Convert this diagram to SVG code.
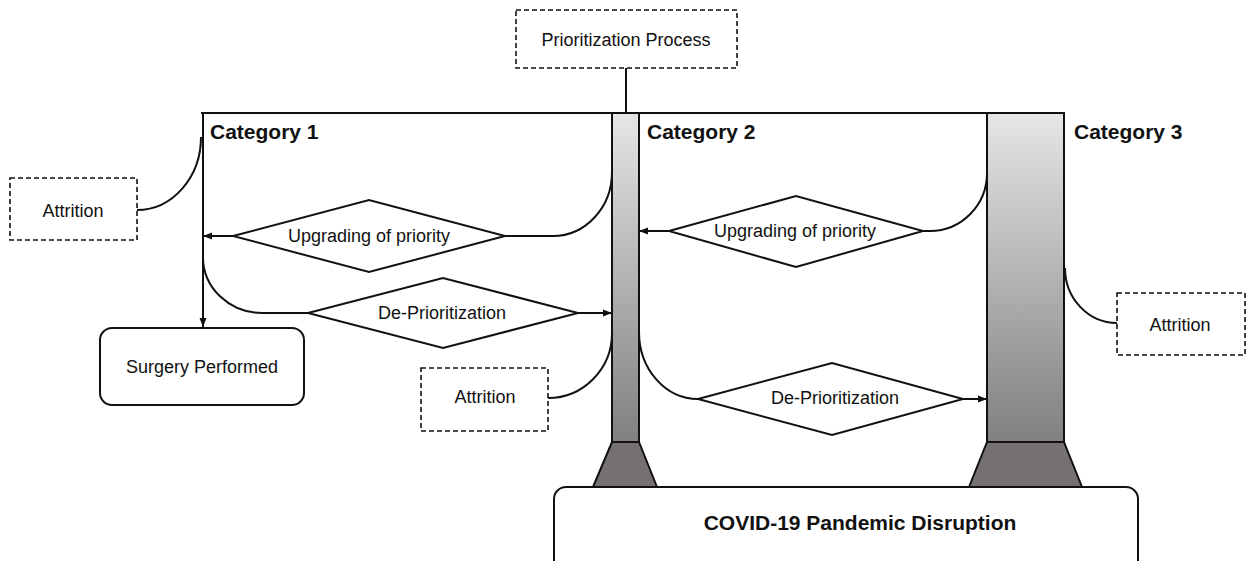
<svg xmlns="http://www.w3.org/2000/svg" width="1252" height="561" viewBox="0 0 1252 561">
  <style>
    text { font-family: "Liberation Sans", Arial, sans-serif; fill: #111; }
    .lbl { font-size: 18px; text-anchor: middle; }
    .cat { font-size: 21px; font-weight: bold; }
    .bold { font-size: 21px; font-weight: bold; text-anchor: middle; }
    .dash { fill: #fff; stroke: #111; stroke-width: 1.6; stroke-dasharray: 5 3; }
    .solid { fill: #fff; stroke: #111; stroke-width: 2; }
    .wire { fill: none; stroke: #111; stroke-width: 2; }
    .arrow { fill: none; stroke: #111; stroke-width: 2; marker-end: url(#head); }
    .pillar { fill: url(#shade); stroke: #111; stroke-width: 2; }
    .base { fill: #767170; stroke: #111; stroke-width: 2; stroke-linejoin: round; }
  </style>
  <defs>
    <linearGradient id="shade" x1="0" y1="0" x2="0" y2="1">
      <stop offset="0" stop-color="#e6e6e6"/>
      <stop offset="1" stop-color="#808080"/>
    </linearGradient>
    <marker id="head" markerUnits="userSpaceOnUse" markerWidth="9" markerHeight="8" refX="9" refY="4" orient="auto">
      <path d="M0,0.5 L9,4 L0,7.5 z" fill="#111"/>
    </marker>
  </defs>

  <rect width="1252" height="561" fill="#fff"/>

  <!-- connectors -->
  <g id="connectors">
    <line class="wire" x1="626" y1="68" x2="626" y2="113"/>
    <line class="wire" x1="201" y1="113" x2="1065" y2="113"/>
    <line class="arrow" x1="203" y1="113" x2="203" y2="327"/>
    <path class="wire" d="M201,137 A64,73 0 0 1 137,210"/>
    <line class="arrow" x1="233" y1="236" x2="203" y2="236"/>
    <path class="wire" d="M203,257 A59,56 0 0 0 262,313 L308,313"/>
    <path class="wire" d="M612,172 A59,64 0 0 1 553,236 L505,236"/>
    <line class="arrow" x1="578" y1="313" x2="612" y2="313"/>
    <path class="wire" d="M612,333 A64,65 0 0 1 548,398"/>
    <line class="arrow" x1="669" y1="231" x2="639" y2="231"/>
    <path class="wire" d="M639,332 A59,67 0 0 0 698,399 L700,399"/>
    <path class="wire" d="M987,173 A57,58 0 0 1 930,231 L923,231"/>
    <line class="arrow" x1="963" y1="399" x2="987" y2="399"/>
    <path class="wire" d="M1065,268 A52,55 0 0 0 1117,323"/>
  </g>

  <g id="prioritization-process">
    <rect class="dash" x="516" y="10" width="221" height="58"/>
    <text class="lbl" x="626" y="46">Prioritization Process</text>
  </g>

  <g id="category-1">
    <text class="cat" x="210" y="139">Category 1</text>
  </g>

  <g id="category-2">
    <rect class="pillar" x="612" y="113" width="27" height="329"/>
    <polygon class="base" points="612,442 639,442 657,487 593,487"/>
    <text class="cat" x="647" y="139">Category 2</text>
  </g>

  <g id="category-3">
    <rect class="pillar" x="987" y="113" width="77" height="329"/>
    <polygon class="base" points="987,442 1064,442 1082,487 969,487"/>
    <text class="cat" x="1074" y="139">Category 3</text>
  </g>

  <g id="attrition-1">
    <rect class="dash" x="10" y="178" width="127" height="62"/>
    <text class="lbl" x="73" y="217">Attrition</text>
  </g>

  <g id="upgrading-1">
    <polygon class="solid" points="233,236 369,200 505,236 369,272"/>
    <text class="lbl" x="369" y="242">Upgrading of priority</text>
  </g>

  <g id="deprioritization-1">
    <polygon class="solid" points="308,313 443,278 578,313 443,348"/>
    <text class="lbl" x="442" y="319">De-Prioritization</text>
  </g>

  <g id="surgery-performed">
    <rect class="solid" x="100" y="328" width="204" height="77" rx="12"/>
    <text class="lbl" x="202" y="373">Surgery Performed</text>
  </g>

  <g id="attrition-2">
    <rect class="dash" x="421" y="368" width="127" height="63"/>
    <text class="lbl" x="485" y="403">Attrition</text>
  </g>

  <g id="upgrading-2">
    <polygon class="solid" points="669,231 796,196 923,231 796,267"/>
    <text class="lbl" x="795" y="237">Upgrading of priority</text>
  </g>

  <g id="deprioritization-2">
    <polygon class="solid" points="698,399 832,363 963,399 832,435"/>
    <text class="lbl" x="835" y="404">De-Prioritization</text>
  </g>

  <g id="attrition-3">
    <rect class="dash" x="1117" y="293" width="128" height="62"/>
    <text class="lbl" x="1180" y="331">Attrition</text>
  </g>

  <g id="covid-disruption">
    <rect class="solid" x="554" y="487" width="584" height="90" rx="12"/>
    <text class="bold" x="860" y="530">COVID-19 Pandemic Disruption</text>
  </g>
</svg>
